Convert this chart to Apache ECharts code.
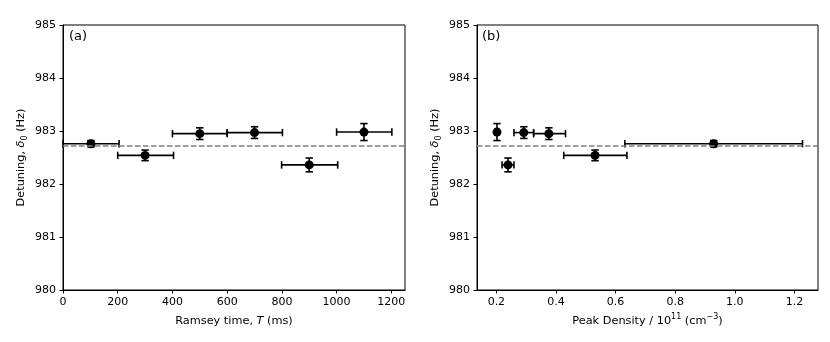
<!DOCTYPE html>
<html>
<head>
<meta charset="utf-8">
<script src="https://cdn.jsdelivr.net/npm/echarts@6/dist/echarts.min.js"></script>
<style>
html,body{margin:0;padding:0;background:#fff;}
#chart{width:830px;height:342px;}
</style>
</head>
<body>
<div id="chart"></div>
<script>
// ---- data ----
const ramseyT      = [102, 300, 500, 700, 900, 1100];
const ramseyTLo    = [0, 200, 400, 600, 799, 1000];
const ramseyTHi    = [205, 404, 600, 802, 1004, 1202];
const detuning     = [982.76, 982.54, 982.95, 982.97, 982.36, 982.98];
const detuningErr  = [0.06, 0.10, 0.11, 0.11, 0.13, 0.16];
const density      = [0.929, 0.531, 0.376, 0.292, 0.239, 0.202];
const densityLo    = [0.631, 0.426, 0.325, 0.259, 0.219, 0.196];
const densityHi    = [1.227, 0.638, 0.432, 0.325, 0.259, 0.208];
const meanDetuning = 982.73;
const xTicksA = [0, 200, 400, 600, 800, 1000, 1200];
const xTicksB = [0.2, 0.4, 0.6, 0.8, 1.0, 1.2];
const yTicks  = [980, 981, 982, 983, 984, 985];

const FONT = 'DejaVu Sans';
const chart = echarts.init(document.getElementById('chart'));

function errData(xs, lo, hi, ys, ye) {
  return xs.map((x, i) => [x, ys[i], lo[i], hi[i], ye[i]]);
}
function seg(a, b) {
  return {type: 'line', shape: {x1: a[0], y1: a[1], x2: b[0], y2: b[1]},
          style: {stroke: '#000', lineWidth: 1.6}};
}
function renderErr(params, api) {
  const x = api.value(0), y = api.value(1);
  const pL = api.coord([api.value(2), y]);
  const pR = api.coord([api.value(3), y]);
  const pT = api.coord([x, y + api.value(4)]);
  const pB = api.coord([x, y - api.value(4)]);
  const c = 3.7;
  return {type: 'group', children: [
    seg(pL, pR),
    seg([pL[0], pL[1] - c], [pL[0], pL[1] + c]),
    seg([pR[0], pR[1] - c], [pR[0], pR[1] + c]),
    seg(pT, pB),
    seg([pT[0] - c, pT[1]], [pT[0] + c, pT[1]]),
    seg([pB[0] - c, pB[1]], [pB[0] + c, pB[1]])
  ]};
}

const axisCommon = {
  type: 'value',
  axisLine: {show: true, onZero: false, lineStyle: {color: '#000', width: 1}},
  axisTick: {show: true, length: 3.5, lineStyle: {color: '#000', width: 1}},
  splitLine: {show: false},
  axisLabel: {color: '#000', fontFamily: FONT, fontSize: 11, margin: 7}
};
const nameStyle = {
  color: '#000', fontFamily: FONT, fontSize: 11.3, lineHeight: 16,
  rich: {
    i:   {fontFamily: FONT, fontSize: 11.3, fontStyle: 'italic', color: '#000', lineHeight: 16},
    sub: {fontFamily: FONT, fontSize: 8, color: '#000', lineHeight: 9, verticalAlign: 'bottom'},
    sup: {fontFamily: FONT, fontSize: 8, color: '#000', lineHeight: 9, verticalAlign: 'top'}
  }
};

function yAxis(gi) {
  return Object.assign({}, axisCommon, {
    gridIndex: gi, min: 980, max: 985, interval: 1,
    axisTick: Object.assign({}, axisCommon.axisTick, {customValues: yTicks}),
    axisLabel: Object.assign({}, axisCommon.axisLabel, {customValues: yTicks}),
    name: 'Detuning, {i|δ}{sub|0} (Hz)',
    nameLocation: 'middle', nameRotate: 90, nameGap: 34,
    nameTextStyle: nameStyle
  });
}

const option = {
  animation: false,
  backgroundColor: '#fff',
  grid: [
    {left: 63, top: 25, width: 342, height: 265, show: true, borderColor: '#000', borderWidth: 1, backgroundColor: 'transparent'},
    {left: 477, top: 25, width: 341, height: 265, show: true, borderColor: '#000', borderWidth: 1, backgroundColor: 'transparent'}
  ],
  xAxis: [
    Object.assign({}, axisCommon, {
      gridIndex: 0, min: 0, max: 1250,
      axisTick: Object.assign({}, axisCommon.axisTick, {customValues: xTicksA}),
      axisLabel: Object.assign({}, axisCommon.axisLabel, {customValues: xTicksA,
        formatter: v => String(v)}),
      name: 'Ramsey time, {i|T} (ms)', nameLocation: 'middle', nameGap: 22,
      nameTextStyle: nameStyle
    }),
    Object.assign({}, axisCommon, {
      gridIndex: 1, min: 0.135, max: 1.279,
      axisTick: Object.assign({}, axisCommon.axisTick, {customValues: xTicksB}),
      axisLabel: Object.assign({}, axisCommon.axisLabel, {customValues: xTicksB,
        formatter: v => v.toFixed(1)}),
      name: 'Peak Density / 10{sup|11} (cm{sup|−3})', nameLocation: 'middle', nameGap: 22,
      nameTextStyle: nameStyle
    })
  ],
  yAxis: [yAxis(0), yAxis(1)],
  graphic: [
    {type: 'text', left: 69, top: 30, style: {text: '(a)', fontFamily: FONT, fontSize: 13, fill: '#000'}},
    {type: 'text', left: 482, top: 30, style: {text: '(b)', fontFamily: FONT, fontSize: 13, fill: '#000'}}
  ],
  series: [
    {type: 'line', xAxisIndex: 0, yAxisIndex: 0, data: [], z: 1,
     markLine: {silent: true, symbol: 'none', label: {show: false},
       lineStyle: {color: '#808080', type: [5.5, 2.5], width: 1.5},
       data: [{yAxis: meanDetuning}]}},
    {type: 'line', xAxisIndex: 1, yAxisIndex: 1, data: [], z: 1,
     markLine: {silent: true, symbol: 'none', label: {show: false},
       lineStyle: {color: '#808080', type: [5.5, 2.5], width: 1.5},
       data: [{yAxis: meanDetuning}]}},
    {type: 'custom', xAxisIndex: 0, yAxisIndex: 0, z: 3, renderItem: renderErr,
     encode: {x: 0, y: 1},
     data: errData(ramseyT, ramseyTLo, ramseyTHi, detuning, detuningErr)},
    {type: 'custom', xAxisIndex: 1, yAxisIndex: 1, z: 3, renderItem: renderErr,
     encode: {x: 0, y: 1},
     data: errData(density, densityLo, densityHi, detuning, detuningErr)},
    {type: 'scatter', xAxisIndex: 0, yAxisIndex: 0, z: 4, symbol: 'circle', symbolSize: 9,
     itemStyle: {color: '#000', opacity: 1}, silent: true,
     data: ramseyT.map((x, i) => [x, detuning[i]])},
    {type: 'scatter', xAxisIndex: 1, yAxisIndex: 1, z: 4, symbol: 'circle', symbolSize: 9,
     itemStyle: {color: '#000', opacity: 1}, silent: true,
     data: density.map((x, i) => [x, detuning[i]])}
  ]
};
chart.setOption(option);
</script>
</body>
</html>
